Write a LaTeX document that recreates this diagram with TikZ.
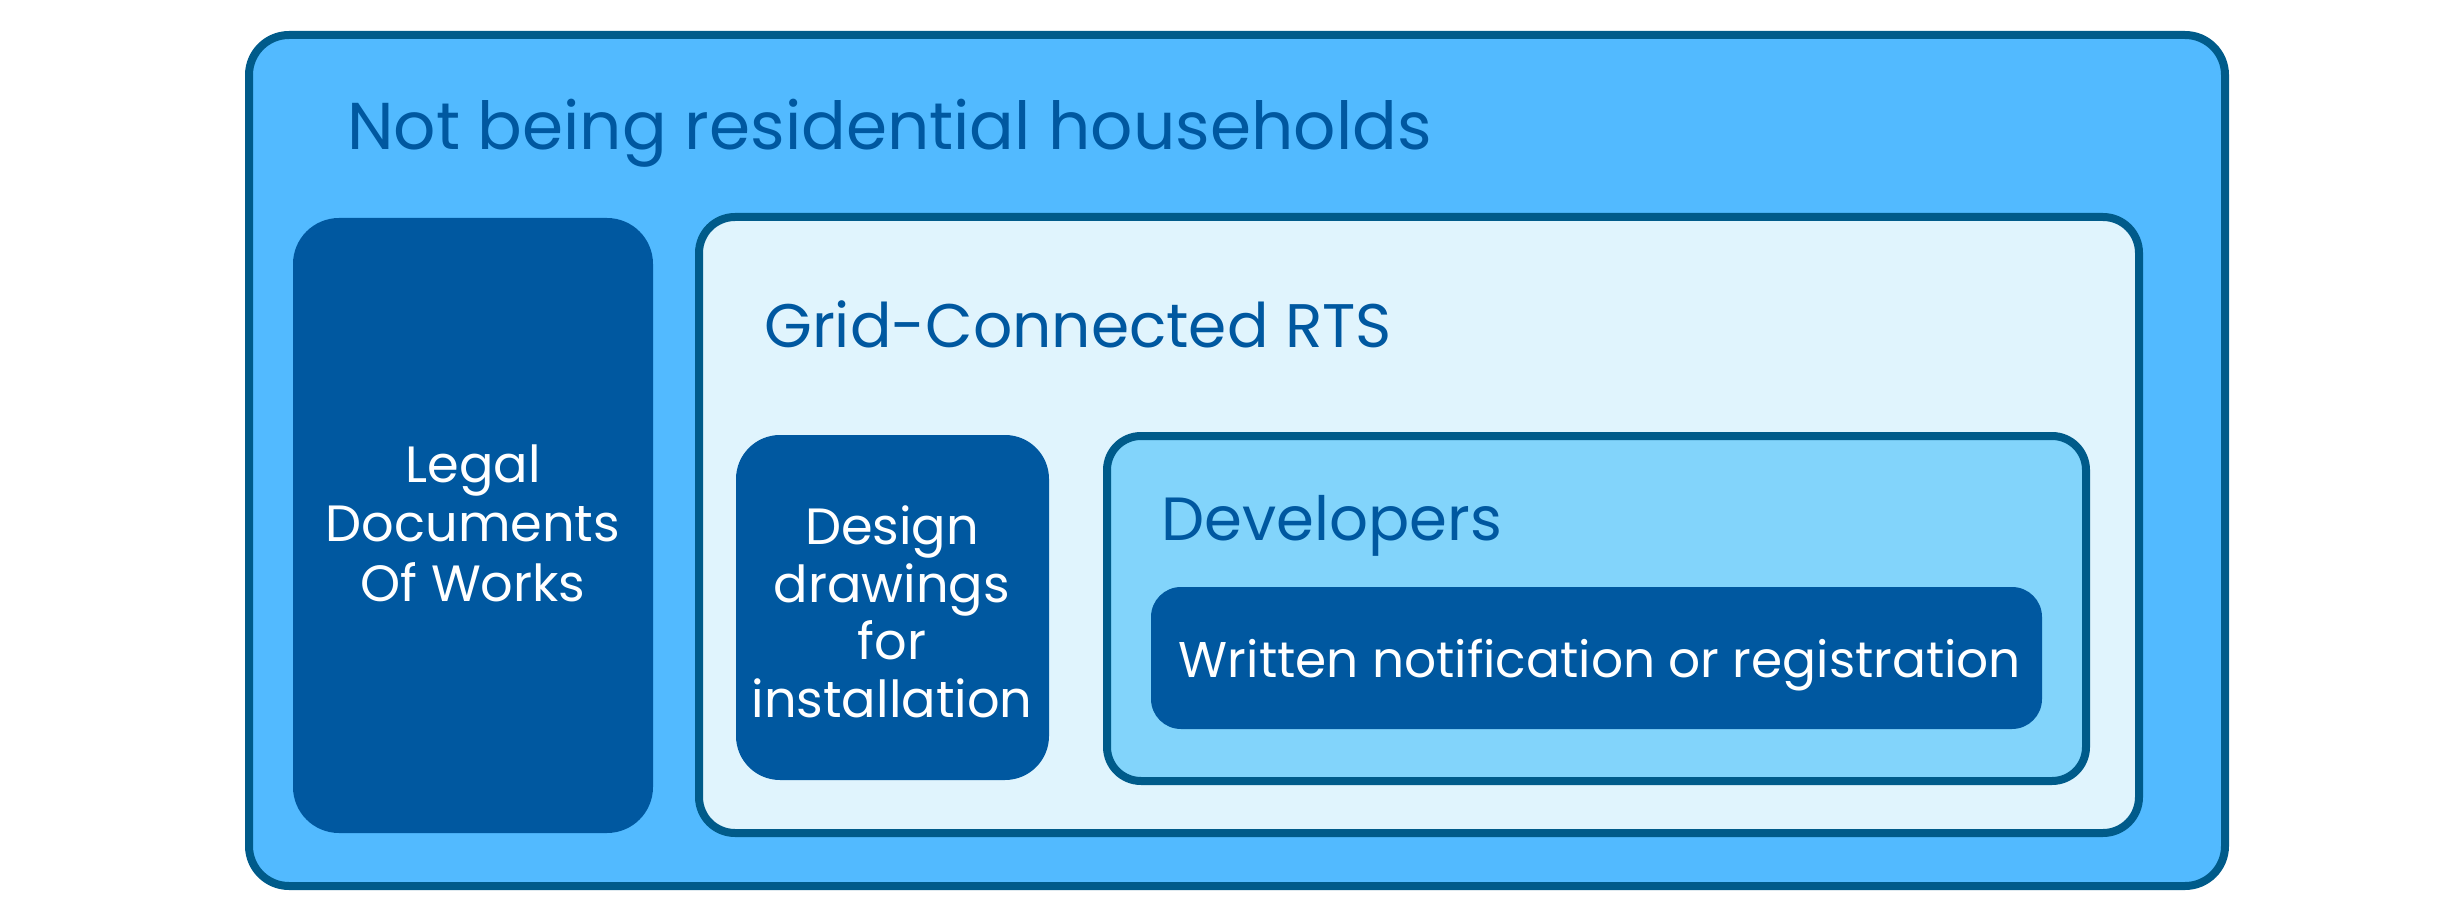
\documentclass[tikz,border=0pt]{standalone}
\usepackage{fontspec}
\setmainfont{Poppins}
\definecolor{outerfill}{HTML}{52BAFF}
\definecolor{edge}{HTML}{005B8A}
\definecolor{gridfill}{HTML}{E0F4FD}
\definecolor{devfill}{HTML}{82D4FB}
\definecolor{dark}{HTML}{0058A0}
\tikzset{
  frame/.style={draw=edge, line width=8pt, rounded corners=40pt, anchor=north west, inner sep=0pt, outer sep=0pt},
  solidbox/.style={fill=dark, rounded corners=#1, anchor=north west, inner sep=0pt, outer sep=0pt},
  heading/.style={anchor=base west, text=dark, inner sep=0pt},
  whitetext/.style={text=white, align=center, inner sep=0pt}
}
\begin{document}
\begin{tikzpicture}[x=1pt,y=-1pt]
\useasboundingbox (0,0) rectangle (2455,917);
\node[frame, fill=outerfill, minimum width=1976pt, minimum height=851pt] (outer) at (249,35) {};
\node[heading, font=\fontsize{66.2}{78}\selectfont] (t1) at (347,150) {Not being residential households};
\node[solidbox=46pt, minimum width=360pt, minimum height=615pt] (legal) at (293,218) {};
\node[whitetext, font=\fontsize{51}{59.5}\selectfont] (legalt) at (473,523) {Legal\\Documents\\Of Works};
\node[frame, fill=gridfill, rounded corners=36pt, minimum width=1440pt, minimum height=616pt] (grid) at (699,217) {};
\node[heading, font=\fontsize{61.5}{74}\selectfont] (t2) at (764,347) {Grid-Connected RTS};
\node[solidbox=44pt, minimum width=313pt, minimum height=345pt] (design) at (736,435) {};
\node[whitetext, font=\fontsize{51}{57.5}\selectfont] (designt) at (892,612) {Design\\drawings\\for\\installation};
\node[frame, fill=devfill, rounded corners=34pt, minimum width=979pt, minimum height=345pt] (dev) at (1107,436) {};
\node[heading, font=\fontsize{61}{72}\selectfont] (t3) at (1161,540) {Developers};
\node[solidbox=30pt, minimum width=891pt, minimum height=142pt] (written) at (1151,587) {};
\node[whitetext, font=\fontsize{50.2}{60}\selectfont, anchor=base] (writtent) at (1600,677) {Written notification or registration};
\end{tikzpicture}
\end{document}
